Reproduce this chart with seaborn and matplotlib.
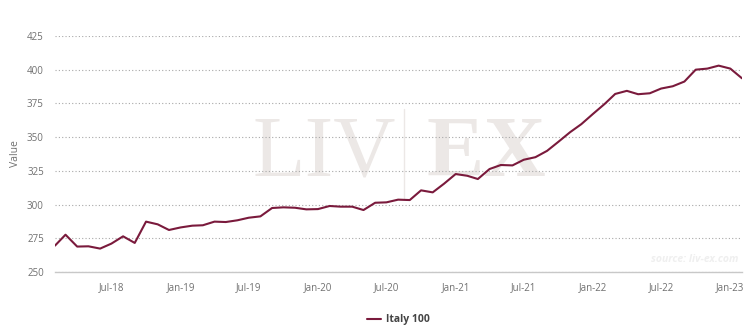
import matplotlib
matplotlib.use("Agg")
import matplotlib.pyplot as plt
import matplotlib.dates as mdates
import numpy as np
import pandas as pd
import seaborn as sns

# Monthly index values, Feb 2018 - Feb 2023
start_month = "2018-02-01"
italy_100 = [
    269.5, 277.6, 268.8, 269.0, 267.3, 271.0, 276.4, 271.5, 287.3, 285.3, 281.1,
    283.0, 284.3, 284.6, 287.3, 287.0, 288.3, 290.2, 291.2, 297.4, 297.9, 297.6, 296.4,
    296.6, 298.9, 298.4, 298.4, 295.9, 301.3, 301.6, 303.6, 303.3, 310.5, 309.0, 315.4,
    322.6, 321.3, 318.9, 326.3, 329.3, 329.0, 333.2, 335.1, 339.8, 346.5, 353.6, 359.6,
    367.2, 374.6, 382.0, 384.3, 381.8, 382.5, 386.0, 387.7, 391.2, 400.0, 400.8, 403.0,
    400.8, 393.6,
]
series_name = "Italy 100"
y_ticks = [250, 275, 300, 325, 350, 375, 400, 425]
x_ticks = ["2018-07-01", "2019-01-01", "2019-07-01", "2020-01-01", "2020-07-01",
           "2021-01-01", "2021-07-01", "2022-01-01", "2022-07-01", "2023-01-01"]

dates = pd.date_range(start_month, periods=len(italy_100), freq="MS")
df = pd.DataFrame({"Date": dates, "Value": italy_100, "Series": series_name})

sns.set_theme(style="white")
plt.rcParams["font.family"] = ["Open Sans", "DejaVu Sans"]

fig = plt.figure(figsize=(7.5, 3.3), dpi=100)
ax = fig.add_axes([0.0733, 0.176, 0.916, 0.715])
ax.set_zorder(1)
ax.set_facecolor("none")

# Faint LIV|EX watermark behind the data
wm_color = "#ece8e6"
fig.text(0.432, 0.53, "LIV", fontsize=62, family="Liberation Serif",
         color=wm_color, ha="center", va="center", zorder=0)
fig.text(0.648, 0.53, "EX", fontsize=62, family="Liberation Serif", weight="bold",
         color=wm_color, ha="center", va="center", zorder=0)
fig.add_artist(plt.Line2D([0.539, 0.539], [0.40, 0.67], color=wm_color, lw=1.0, zorder=0))

sns.lineplot(data=df, x="Date", y="Value", hue="Series", palette=["#7a1a3c"],
             linewidth=1.5, ax=ax, zorder=3)

ax.set_ylim(250, 425)
ax.set_xlim(dates[0], dates[-1])
ax.set_yticks(y_ticks)
ax.set_xticks(pd.to_datetime(x_ticks))
ax.xaxis.set_major_formatter(mdates.DateFormatter("%b-%y"))

ax.grid(axis="y", linestyle=(0, (1, 2)), color="#a8a8a8", linewidth=0.8)
ax.grid(axis="x", visible=False)
for side in ["top", "right", "left"]:
    ax.spines[side].set_visible(False)
ax.spines["bottom"].set_color("#c8c8c8")
ax.spines["bottom"].set_linewidth(1.0)

ax.tick_params(axis="x", length=5, color="#c8c8c8", labelsize=7, labelcolor="#707070", pad=2)
ax.tick_params(axis="y", length=0, labelsize=7, labelcolor="#707070", pad=8)
ax.set_xlabel("")
ax.set_ylabel("Value", fontsize=7.5, color="#707070")
ax.yaxis.set_label_coords(-0.05, 0.5)

ax.text(0.995, 0.03, "source: liv-ex.com", transform=ax.transAxes, ha="right",
        va="bottom", fontsize=7.5, style="italic", weight="bold", color="#efefef", zorder=1)

leg = ax.legend(loc="upper center", bbox_to_anchor=(0.5, -0.14), frameon=False,
                fontsize=7.5, handlelength=1.4, handletextpad=0.5)
for t in leg.get_texts():
    t.set_color("#444444")
    t.set_weight("bold")

fig.savefig("out.png", dpi=100, facecolor="white")
